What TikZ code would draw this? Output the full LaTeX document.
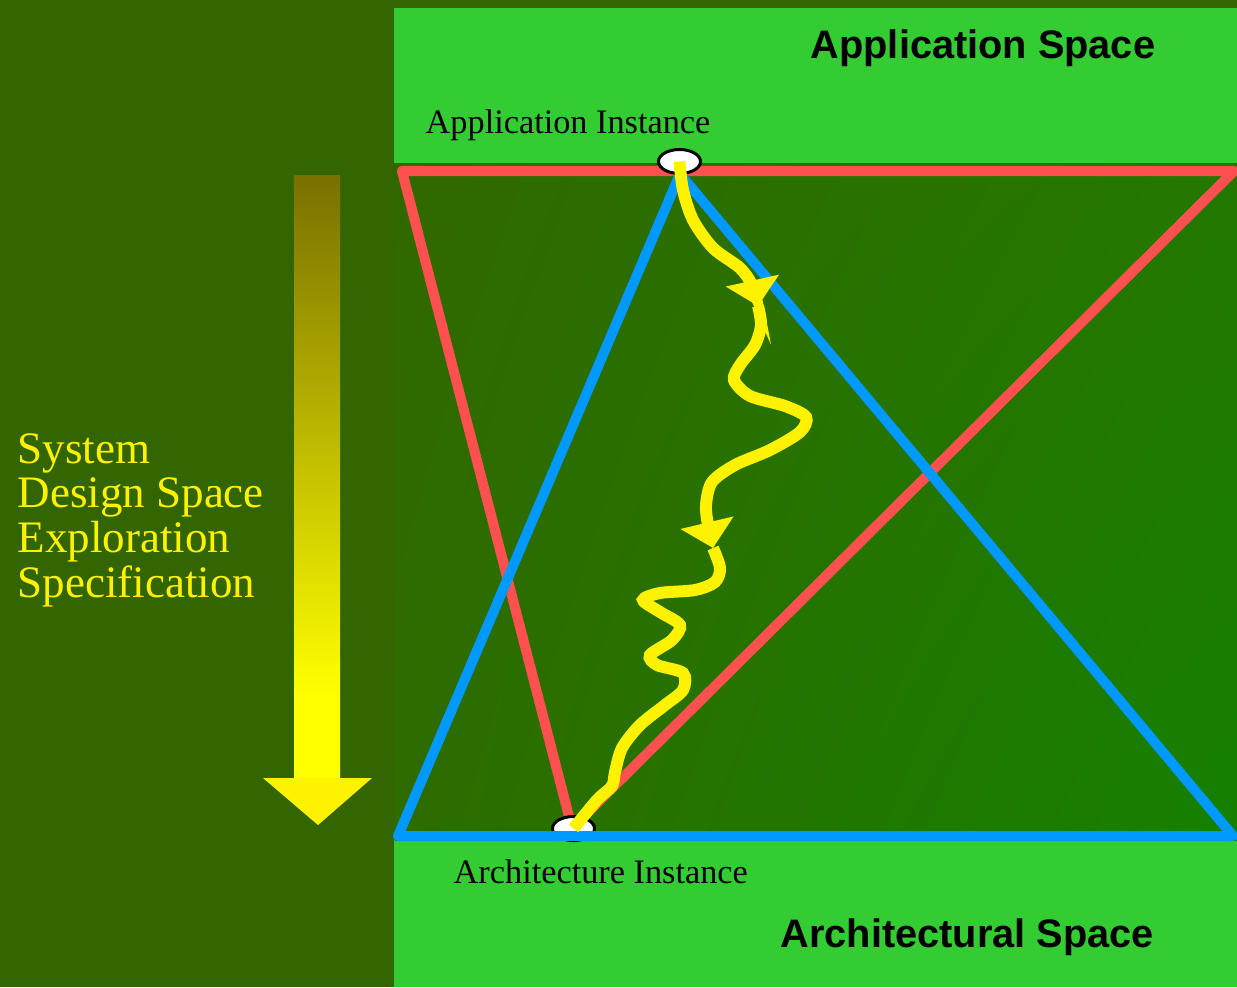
\documentclass[tikz,border=0pt]{standalone}
\usepackage{fontspec}
\setmainfont{Liberation Serif}
\newfontfamily\headfont{Liberation Sans}
\usetikzlibrary{shapes.geometric,arrows.meta,shadings}
\definecolor{bgdark}{RGB}{51,102,0}
\definecolor{spacegreen}{RGB}{51,204,51}
\definecolor{arrowtop}{RGB}{120,112,0}
\definecolor{mapred}{RGB}{255,80,80}
\definecolor{archblue}{RGB}{0,153,255}
\definecolor{fieldnw}{RGB}{48,104,0}
\definecolor{fieldne}{RGB}{36,120,0}
\definecolor{fieldsw}{RGB}{46,108,0}
\definecolor{fieldse}{RGB}{20,128,0}
\pgfdeclareverticalshading{shaftfade}{100bp}{color(0bp)=(yellow); color(32bp)=(yellow); color(75bp)=(arrowtop); color(100bp)=(arrowtop)}
\begin{document}
\begin{tikzpicture}[
            x=0.01cm,
            y=-0.01cm,
            space/.style={fill=spacegreen},
            mapline/.style={line width=2.85pt, line join=round},
            instance/.style={ellipse, draw=black, fill=white, line width=0.85pt,
                minimum width=0.42cm, minimum height=0.24cm, inner sep=0pt},
            trail/.style={draw=yellow, line width=3.4pt},
            arrowmark/.style={-{Triangle[width=0.53cm,length=0.26cm]}},
            instlabel/.style={inner sep=0pt, anchor=base west, font=\fontsize{9.75}{11}\selectfont},
            spacetitle/.style={inner sep=0pt, anchor=base west, font=\headfont\bfseries\fontsize{11.3}{13}\selectfont},
            flowtext/.style={inner sep=0pt, anchor=west, align=left, text=yellow,
                font=\fontsize{12.8}{12.7}\selectfont}
        ]
        \useasboundingbox (0,0) rectangle (1237,987);
        \fill[bgdark] (0,0) rectangle (1237,987);

        \fill[space] (394,8) rectangle (1237,163);
        \fill[space] (394,840) rectangle (1237,987);
        \shade[upper left=fieldnw, upper right=fieldne, lower left=fieldsw, lower right=fieldse]
            (395,163) rectangle (1237,840);

        \shade[shading=shaftfade] (294,175) rectangle (340,779);
        \fill[yellow] (263,778) -- (372,778) -- (318,825) -- cycle;

        \coordinate (R1) at (402,171);
        \coordinate (R2) at (1234,171);
        \coordinate (R3) at (572,828);
        \coordinate (B1) at (680,174);
        \coordinate (B2) at (398,836);
        \coordinate (B3) at (1233,836);
        \draw[mapline, mapred] (R1) -- (R2) -- (R3) -- cycle;
        \draw[mapline, archblue] (B1) -- (B2) -- (B3) -- cycle;

        \node[instance] (appInst) at (679.5,161.5) {};
        \node[instance] (archInst) at (573.5,828.5) {};
        \draw[mapline, archblue] (B2) -- (B3);

        \coordinate (tipA) at (758,306);
        \coordinate (tipB) at (713,548);
        \draw[trail, arrowmark] plot[smooth] coordinates {(appInst.center) (683,190) (693,220) (713,248)
            (740,268) (752,285) (tipA)};
        \draw[trail, arrowmark] plot[smooth] coordinates {(tipA) (761,325) (755,345) (740,365) (734,380)
            (750,396) (785,406) (806,417) (800,432) (770,450) (735,465) (712,482) (706,505) (708,525) (tipB)};
        \draw[trail] plot[smooth] coordinates {(tipB) (720,568) (715,582) (695,590) (660,593) (643,600)
            (660,612) (680,625) (672,640) (650,655) (657,665) (683,673) (683,690) (665,705) (640,725)
            (622,748) (615,772) (612,786) (597,800) (archInst.center)};

        \node[spacetitle] (appSpace) at (810,58) {Application Space};
        \node[spacetitle] (archSpace) at (780,947) {Architectural Space};
        \node[instlabel] (appLabel) at (425,133) {Application Instance};
        \node[instlabel] (archLabel) at (453,883) {Architecture Instance};
        \node[flowtext] (flowLabel) at (17,520) {System\\Design Space\\Exploration\\Specification};

    \end{tikzpicture}
\end{document}
